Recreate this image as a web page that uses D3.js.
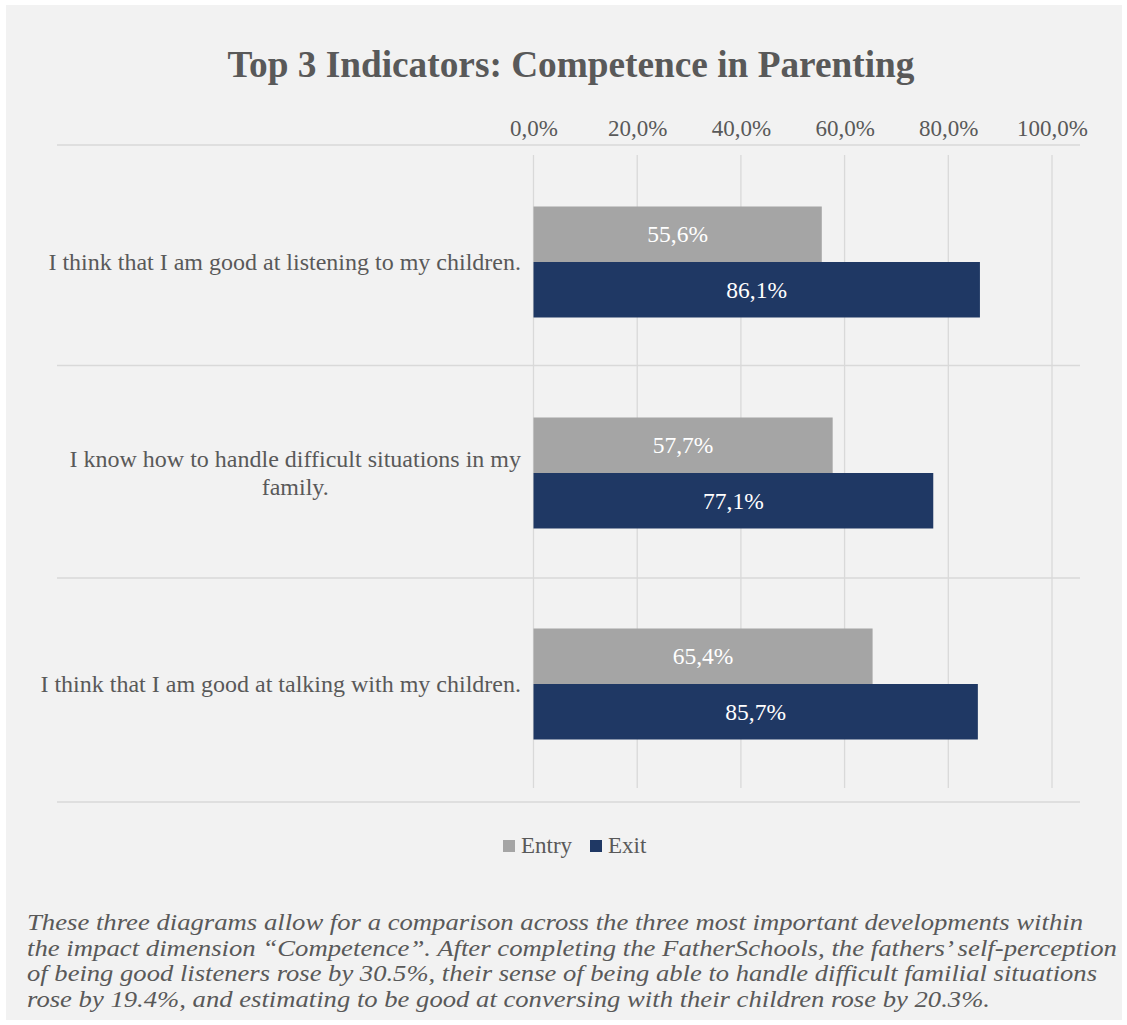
<!DOCTYPE html>
<html>
<head>
<meta charset="utf-8">
<script src="https://cdn.jsdelivr.net/npm/d3@7"></script>
<style>
  html, body { margin: 0; padding: 0; background: #ffffff; }
  svg { display: block; }
  text { font-family: "Liberation Serif", "Times New Roman", serif; fill: #595959; }
</style>
</head>
<body>
<svg id="chart" width="1127" height="1025"></svg>
<script>
const categories = [
  "I think that I am good at listening to my children.",
  "I know how to handle difficult situations in my family.",
  "I think that I am good at talking with my children."
];
const categoryLines = [
  ["I think that I am good at listening to my children."],
  ["I know how to handle difficult situations in my", "family."],
  ["I think that I am good at talking with my children."]
];
const seriesNames = ["Entry", "Exit"];
const entryValues = [55.6, 57.7, 65.4];
const exitValues = [86.1, 77.1, 85.7];
const tickValues = [0, 20, 40, 60, 80, 100];
const titleText = "Top 3 Indicators: Competence in Parenting";
const footerLines = [
  "These three diagrams allow for a comparison across the three most important developments within",
  "the impact dimension \u201cCompetence\u201d. After completing the FatherSchools, the fathers\u2019 self-perception",
  "of being good listeners rose by 30.5%, their sense of being able to handle difficult familial situations",
  "rose by 19.4%, and estimating to be good at conversing with their children rose by 20.3%."
];
const footerWidths = [1056, 1090, 1070, 963];
const colors = { Entry: "#a5a5a5", Exit: "#1f3864" };

const fmt = v => d3.format(".1f")(v).replace(".", ",") + "%";

const svg = d3.select("#chart");

// chart panel
svg.append("rect").attr("x", 6).attr("y", 5).attr("width", 1116).attr("height", 1015).attr("fill", "#f2f2f2");

// title
svg.append("text").attr("x", 571).attr("y", 77).attr("text-anchor", "middle")
  .style("font-size", "37.3px").style("font-weight", "bold").text(titleText);

const x = d3.scaleLinear().domain([0, 100]).range([533.5, 1052]);
const y0 = d3.scaleBand().domain(categories).range([156.5, 789.5]).paddingInner(0.474).paddingOuter(0.237);
const y1 = d3.scaleBand().domain(seriesNames).range([0, y0.bandwidth()]);

// horizontal lines (axis line + category separators)
const sepYs = [145, y0.step() * 1 + 154.5, y0.step() * 2 + 156, 802];
svg.append("g").selectAll("line").data(sepYs).join("line")
  .attr("x1", 57).attr("x2", 1080).attr("y1", d => d).attr("y2", d => d)
  .attr("stroke", "#d9d9d9").attr("stroke-width", 1.3);

// vertical gridlines
svg.append("g").selectAll("line").data(tickValues).join("line")
  .attr("x1", d => x(d)).attr("x2", d => x(d)).attr("y1", 155).attr("y2", 788)
  .attr("stroke", "#d9d9d9").attr("stroke-width", 1.3);

// top axis labels
const axis = d3.axisTop(x).tickValues(tickValues).tickFormat(fmt).tickSize(0).tickPadding(0);
const ag = svg.append("g").attr("transform", "translate(0,136)").call(axis);
ag.select(".domain").remove();
ag.selectAll("text").attr("dy", 0).style("font-size", "23px").style("font-family", "Liberation Serif").attr("fill", "#595959");

// bars
const data = categories.map((c, i) => ({ cat: c, vals: [
  { s: "Entry", v: entryValues[i] }, { s: "Exit", v: exitValues[i] } ] }));
const groups = svg.append("g").selectAll("g").data(data).join("g")
  .attr("transform", d => `translate(0,${y0(d.cat)})`);
groups.selectAll("rect").data(d => d.vals).join("rect")
  .attr("x", x(0)).attr("y", d => y1(d.s)).attr("width", d => x(d.v) - x(0)).attr("height", y1.bandwidth())
  .attr("fill", d => colors[d.s]);
groups.selectAll("text").data(d => d.vals).join("text")
  .attr("x", d => (x(0) + x(d.v)) / 2).attr("y", d => y1(d.s) + y1.bandwidth() / 2 + 8)
  .attr("text-anchor", "middle").style("font-size", "23.5px").style("fill", "#ffffff").text(d => fmt(d.v));

// category labels
categories.forEach((c, i) => {
  const lines = categoryLines[i];
  const cy = y0(c) + y0.bandwidth() / 2;
  const g = svg.append("g");
  const texts = lines.map((ln, j) => g.append("text")
    .attr("y", cy + 8 + (j - (lines.length - 1) / 2) * 28)
    .style("font-size", "24px").attr("text-anchor", "middle").text(ln));
  const maxW = d3.max(texts, t => t.node().getComputedTextLength());
  texts.forEach(t => t.attr("x", 521 - maxW / 2));
});

// legend
const leg = svg.append("g").attr("transform", "translate(503,840)");
const legX = [0, 87];
seriesNames.forEach((s, i) => {
  leg.append("rect").attr("x", legX[i]).attr("y", 0).attr("width", 12).attr("height", 12).attr("fill", colors[s]);
  leg.append("text").attr("x", legX[i] + 18).attr("y", 13).style("font-size", "23px").text(s);
});

// footer
svg.append("g").selectAll("text").data(footerLines).join("text")
  .attr("x", 27).attr("y", (d, i) => 930 + i * 25.5)
  .attr("textLength", (d, i) => footerWidths[i]).attr("lengthAdjust", "spacingAndGlyphs")
  .style("font-size", "22.8px").style("font-style", "italic").text(d => d);
</script>
</body>
</html>
